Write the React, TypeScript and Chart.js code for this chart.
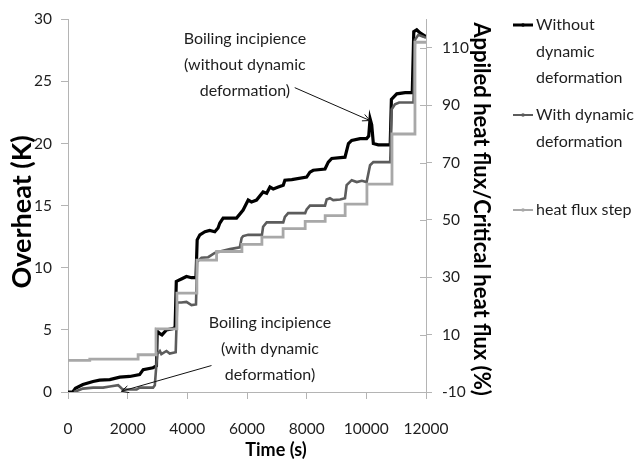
import { useEffect, useRef } from "react";
import { Chart, registerables } from "chart.js";

Chart.register(...registerables);

// ---------- data ----------
const timeWithout = [0, 160, 250, 500, 840, 1060, 1400, 1735, 2070, 2400, 2520, 2850, 2965, 2990, 3080, 3150, 3300, 3510, 3590, 3630, 3800, 3970, 4140, 4290, 4330, 4420, 4590, 4750, 4920, 5030, 5090, 5200, 5430, 5650, 5870, 6040, 6150, 6320, 6540, 6660, 6770, 6880, 7050, 7215, 7270, 7500, 8000, 8110, 8220, 8615, 8725, 8840, 9285, 9400, 9510, 9790, 10010, 10080, 10125, 10180, 10235, 10400, 10800, 10840, 11020, 11300, 11540, 11590, 11690, 11800, 12000];
const overheatWithout = [0, 0.0, 0.3, 0.6, 0.85, 0.95, 1.0, 1.2, 1.25, 1.4, 1.8, 1.95, 2.1, 4.9, 4.7, 4.6, 5.0, 5.1, 5.2, 8.9, 9.1, 9.3, 9.2, 9.2, 12.25, 12.65, 12.9, 13.0, 12.9, 13.2, 13.6, 14.0, 14.0, 14.0, 14.65, 15.45, 15.3, 15.45, 16.1, 16.0, 16.5, 16.35, 16.5, 16.65, 17.05, 17.1, 17.3, 17.7, 17.85, 17.95, 18.5, 18.8, 18.9, 20.0, 20.25, 20.4, 20.4, 20.6, 22.0, 21.5, 20.0, 19.9, 19.9, 23.55, 24.0, 24.1, 24.1, 29.0, 29.15, 28.9, 28.6];

const timeWith = [200, 500, 840, 1175, 1400, 1680, 1790, 1850, 2300, 2400, 2850, 2910, 2990, 3080, 3130, 3300, 3410, 3610, 3660, 3800, 3970, 4140, 4290, 4330, 4475, 4700, 4920, 5090, 5430, 5760, 5820, 5870, 6040, 6500, 6540, 6660, 7215, 7270, 7380, 7950, 8000, 8110, 8615, 8670, 8780, 8890, 9120, 9285, 9340, 9510, 9680, 9850, 10010, 10125, 10235, 10800, 10850, 10960, 11100, 11580, 11630, 11745, 11910, 12000];
const overheatWith = [0.0, 0.27, 0.35, 0.35, 0.45, 0.55, 0.3, 0.2, 0.2, 0.35, 0.35, 0.55, 3.05, 3.3, 3.05, 3.3, 3.1, 3.2, 7.2, 7.2, 7.25, 7.0, 7.05, 10.5, 10.8, 10.85, 11.2, 11.3, 11.5, 11.65, 12.4, 12.55, 12.65, 12.65, 13.3, 13.65, 13.65, 14.1, 14.4, 14.4, 14.7, 15.0, 15.0, 15.5, 15.6, 15.45, 15.5, 15.6, 16.65, 17.05, 16.9, 17.0, 16.9, 18.25, 18.5, 18.5, 22.75, 23.15, 23.3, 23.3, 28.35, 28.75, 28.6, 28.5];

const stepTimes = [0, 730, 2350, 2950, 3650, 4320, 4980, 5830, 6500, 7210, 7950, 8620, 9290, 10020, 10860, 11630, 12000];
const stepFlux = [1, 1.5, 3, 12, 24.5, 36, 39, 41.5, 44, 47, 49.5, 51.5, 55.5, 62.5, 80, 112, 112];

const xTicks = [0, 2000, 4000, 6000, 8000, 10000, 12000];
const leftTicks = [0, 5, 10, 15, 20, 25, 30];
const rightTicks = [-10, 10, 30, 50, 70, 90, 110];

const seriesNames = ["Without dynamic deformation", "With dynamic deformation", "heat flux step"];
const legendLines = [["Without", "dynamic", "deformation"], ["With dynamic", "deformation"], ["heat flux step"]];

const xTitle = "Time (s)";
const leftTitle = "Overheat (K)";
const rightTitle = "Appiled heat flux/Critical heat flux (%)";

const noteWithout = ["Boiling incipience", "(without dynamic", "deformation)"];
const noteWith = ["Boiling incipience", "(with dynamic", "deformation)"];

// ---------- styles ----------
const BLACK = "#000000";
const DARK = "#5c5c5c";
const LIGHT = "#a8a8a8";
const AXIS = "#b4b4b4";
const TEXT = "#1e1e1e";
const FAMILY = "Lato, 'Noto Sans', sans-serif";

const zip = (xs: number[], ys: number[]) => xs.map((x, i) => ({ x, y: ys[i] }));

function drawLines(ctx: CanvasRenderingContext2D, lines: string[], cx: number, cy: number, step: number, font: string) {
  ctx.font = font;
  ctx.fillStyle = TEXT;
  ctx.textAlign = "center";
  ctx.textBaseline = "middle";
  lines.forEach((s, i) => ctx.fillText(s, cx, cy + i * step));
}

function arrow(ctx: CanvasRenderingContext2D, x0: number, y0: number, x1: number, y1: number) {
  ctx.strokeStyle = "#111";
  ctx.lineWidth = 1;
  ctx.beginPath();
  ctx.moveTo(x0, y0);
  ctx.lineTo(x1, y1);
  const a = Math.atan2(y1 - y0, x1 - x0);
  const L = 8, w = 0.45;
  ctx.moveTo(x1 - L * Math.cos(a - w), y1 - L * Math.sin(a - w));
  ctx.lineTo(x1, y1);
  ctx.lineTo(x1 - L * Math.cos(a + w), y1 - L * Math.sin(a + w));
  ctx.stroke();
}

const overlay = {
  id: "overlay",
  afterDraw(chart: any) {
    const ctx: CanvasRenderingContext2D = chart.ctx;
    const sx = chart.scales.x, sy = chart.scales.y, sy1 = chart.scales.y1;
    ctx.save();
    // inner half of right-axis tick marks
    ctx.strokeStyle = AXIS;
    ctx.lineWidth = 1;
    rightTicks.forEach((v) => {
      const py = Math.round(sy1.getPixelForValue(v)) + 0.5;
      ctx.beginPath();
      ctx.moveTo(sy1.left - 6, py);
      ctx.lineTo(sy1.left, py);
      ctx.stroke();
    });

    // annotations
    const f16 = `16px ${FAMILY}`;
    drawLines(ctx, noteWithout, sx.getPixelForValue(5930), sy.getPixelForValue(28.4), 25.8, f16);
    arrow(ctx, sx.getPixelForValue(7600), sy.getPixelForValue(24.5), sx.getPixelForValue(10120), sy.getPixelForValue(21.85));
    drawLines(ctx, noteWith, sx.getPixelForValue(6770), sy.getPixelForValue(5.59), 26.3, f16);
    arrow(ctx, sx.getPixelForValue(4810), sy.getPixelForValue(2.13), sx.getPixelForValue(1790), sy.getPixelForValue(0.06));

    // axis titles
    ctx.fillStyle = "#000";
    ctx.textAlign = "center";
    ctx.textBaseline = "middle";
    ctx.font = `bold 18px ${FAMILY}`;
    ctx.fillText(xTitle, 276, 450);

    ctx.save();
    ctx.translate(22, 212);
    ctx.rotate(-Math.PI / 2);
    ctx.font = `bold 27px ${FAMILY}`;
    ctx.fillText(leftTitle, 0, 0);
    ctx.restore();

    ctx.save();
    ctx.translate(481, 209);
    ctx.rotate(Math.PI / 2);
    ctx.font = `bold 22px ${FAMILY}`;
    ctx.fillText(rightTitle, 0, 0);
    ctx.restore();

    // legend
    const colors = [BLACK, DARK, LIGHT];
    const widths = [3, 2, 2];
    const tops = [25, 115, 210];
    ctx.font = f16;
    ctx.textAlign = "left";
    ctx.textBaseline = "middle";
    legendLines.forEach((lines, i) => {
      const y = tops[i];
      ctx.strokeStyle = colors[i];
      ctx.lineWidth = widths[i];
      ctx.beginPath();
      ctx.moveTo(513, y);
      ctx.lineTo(533, y);
      ctx.stroke();
      ctx.fillStyle = colors[i];
      ctx.beginPath();
      ctx.arc(523, y, 1.8, 0, Math.PI * 2);
      ctx.fill();
      ctx.fillStyle = TEXT;
      lines.forEach((s, j) => ctx.fillText(s, 536, y + j * 26.5));
    });
    ctx.restore();
  },
};

export default function App() {
  const ref = useRef<HTMLCanvasElement | null>(null);

  useEffect(() => {
    document.body.style.margin = "0";
    if (!ref.current) return;
    const tickFont = { family: FAMILY, size: 15.5 };
    const plain = (v: any) => String(v);
    const chart = new Chart(ref.current, {
      type: "line",
      data: {
        datasets: [
          {
            label: seriesNames[0],
            data: zip(timeWithout, overheatWithout),
            borderColor: BLACK,
            borderWidth: 3.2,
            pointRadius: 0,
            tension: 0,
            yAxisID: "y",
            order: 3,
          },
          {
            label: seriesNames[1],
            data: zip(timeWith, overheatWith),
            borderColor: DARK,
            borderWidth: 2.6,
            pointRadius: 0,
            tension: 0,
            yAxisID: "y",
            order: 2,
          },
          {
            label: seriesNames[2],
            data: zip(stepTimes, stepFlux),
            borderColor: LIGHT,
            borderWidth: 2.8,
            pointRadius: 0,
            stepped: "before",
            yAxisID: "y1",
            order: 1,
          },
        ],
      },
      options: {
        animation: false,
        responsive: false,
        devicePixelRatio: 1,
        layout: { padding: { top: 16, right: 139, left: 0, bottom: 0 } },
        plugins: { legend: { display: false }, tooltip: { enabled: false }, title: { display: false } },
        scales: {
          x: {
            type: "linear",
            min: 0,
            max: 12000,
            afterBuildTicks: (s: any) => { s.ticks = xTicks.map((v) => ({ value: v })); },
            afterFit: (s: any) => { s.height = 69; },
            ticks: { font: tickFont, color: TEXT, padding: 21, maxRotation: 0, callback: plain },
            grid: { drawOnChartArea: false, tickLength: 7, color: AXIS },
            border: { color: AXIS },
          },
          y: {
            type: "linear",
            position: "left",
            min: 0,
            max: 30,
            afterBuildTicks: (s: any) => { s.ticks = leftTicks.map((v) => ({ value: v })); },
            afterFit: (s: any) => { s.width = 68; },
            ticks: { font: tickFont, color: TEXT, padding: 9, callback: plain },
            grid: { drawOnChartArea: false, tickLength: 7, color: AXIS },
            border: { color: AXIS },
          },
          y1: {
            type: "linear",
            position: "right",
            min: -10,
            max: 120,
            afterBuildTicks: (s: any) => { s.ticks = rightTicks.map((v) => ({ value: v })); },
            afterFit: (s: any) => { s.width = 69; },
            ticks: { font: tickFont, color: TEXT, padding: 10, callback: plain },
            grid: { drawOnChartArea: false, tickLength: 6, color: AXIS },
            border: { color: AXIS },
          },
        },
      },
      plugins: [overlay],
    } as any);

    let alive = true;
    if ((document as any).fonts) {
      Promise.all([
        document.fonts.load(`16px Lato`),
        document.fonts.load(`bold 16px Lato`),
      ]).then(() => { if (alive) chart.update("none"); }).catch(() => {});
    }
    return () => { alive = false; chart.destroy(); };
  }, []);

  return (
    <div style={{ width: 634, height: 461, position: "relative" }}>
      <canvas ref={ref} width={634} height={461} style={{ width: 634, height: 461, display: "block" }} />
    </div>
  );
}
